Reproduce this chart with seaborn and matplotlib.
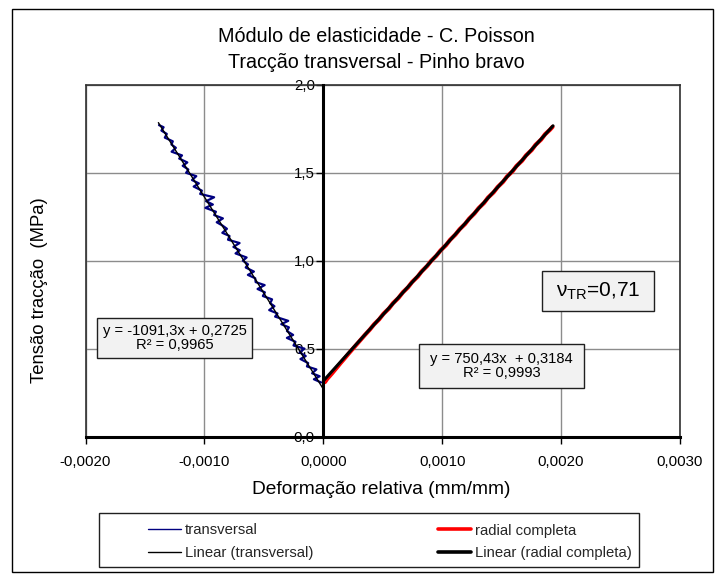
import numpy as np
import pandas as pd
import matplotlib
matplotlib.use("Agg")
import matplotlib.pyplot as plt
import seaborn as sns
from matplotlib.patches import Rectangle
from matplotlib.lines import Line2D

# ---------------- data ----------------
trans_y = [0.310, 0.328, 0.345, 0.362, 0.384, 0.401, 0.420, 0.443, 0.460, 0.481,
           0.502, 0.520, 0.541, 0.563, 0.580, 0.602, 0.623, 0.641, 0.660, 0.684,
           0.702, 0.721, 0.743, 0.760, 0.782, 0.801, 0.822, 0.841, 0.863, 0.880,
           0.902, 0.921, 0.940, 0.963, 0.981, 1.002, 1.020, 1.043, 1.061, 1.080,
           1.102, 1.121, 1.142, 1.160, 1.183, 1.201, 1.220, 1.242, 1.261, 1.280,
           1.302, 1.321, 1.340, 1.362, 1.381, 1.400, 1.423, 1.441, 1.460, 1.482,
           1.501, 1.520, 1.541, 1.560, 1.582, 1.600, 1.621, 1.643, 1.662, 1.680,
           1.701, 1.722, 1.741, 1.760, 1.772]
trans_x = [-18.4e-6, -78.9e-6, -30.4e-6, -94.0e-6, -58.2e-6, -137.7e-6, -127.2e-6, -192.2e-6, -147.8e-6, -199.1e-6,
           -158.3e-6, -250.8e-6, -234.0e-6, -306.2e-6, -253.8e-6, -305.9e-6, -289.2e-6, -353.7e-6, -295.1e-6, -405.1e-6,
           -385.6e-6, -455.0e-6, -411.1e-6, -446.7e-6, -430.9e-6, -508.3e-6, -491.5e-6, -552.9e-6, -493.1e-6, -568.7e-6,
           -572.8e-6, -634.2e-6, -583.7e-6, -652.7e-6, -633.2e-6, -676.5e-6, -645.0e-6, -738.0e-6, -702.5e-6, -755.9e-6,
           -704.1e-6, -801.5e-6, -788.7e-6, -849.2e-6, -810.3e-6, -846.8e-6, -896.2e-6, -844.4e-6, -917.8e-6, -903.2e-6,
           -991.4e-6, -928.8e-6, -986.2e-6, -918.3e-6, -1035.7e-6, -1021.2e-6, -1090.2e-6, -1046.7e-6, -1104.2e-6, -1068.3e-6,
           -1153.7e-6, -1135.1e-6, -1182.4e-6, -1143.8e-6, -1211.9e-6, -1188.4e-6, -1275.7e-6, -1239.8e-6, -1277.3e-6, -1265.7e-6,
           -1333.0e-6, -1316.3e-6, -1361.6e-6, -1343.0e-6, -1382.0e-6]

radial_y = [0.312, 0.318, 0.330, 0.345, 0.362, 0.380, 0.401, 0.420, 0.445, 0.470,
            0.498, 0.525, 0.552, 0.580, 0.610, 0.640, 0.668, 0.700, 0.730, 0.760,
            0.790, 0.822, 0.850, 0.880, 0.912, 0.940, 0.972, 1.000, 1.030, 1.060,
            1.090, 1.120, 1.150, 1.180, 1.210, 1.240, 1.270, 1.300, 1.330, 1.360,
            1.390, 1.420, 1.450, 1.480, 1.510, 1.540, 1.570, 1.600, 1.630, 1.660,
            1.690, 1.720, 1.745, 1.762]
radial_x = [14e-6, 20e-6, 32e-6, 52e-6, 74e-6, 96e-6, 122e-6, 145e-6, 177e-6, 208e-6,
            244e-6, 279e-6, 314e-6, 350e-6, 391e-6, 427e-6, 469e-6, 506e-6, 552e-6, 586e-6,
            632e-6, 669e-6, 712e-6, 746e-6, 795e-6, 826e-6, 874e-6, 906e-6, 951e-6, 986e-6,
            1032e-6, 1066e-6, 1111e-6, 1146e-6, 1192e-6, 1226e-6, 1271e-6, 1306e-6, 1352e-6, 1385e-6,
            1432e-6, 1466e-6, 1512e-6, 1545e-6, 1592e-6, 1625e-6, 1672e-6, 1705e-6, 1752e-6, 1785e-6,
            1832e-6, 1865e-6, 1905e-6, 1928e-6]

# linear trend lines (coefficients from the chart labels) and their x-extents
fit_trans_coef = [-1091.3, 0.2725]
fit_trans_x = [-0.001387, 0.0]
fit_radial_coef = [750.43, 0.3184]
fit_radial_x = [0.0, 0.001932]

x_ticks = [-0.002, -0.001, 0.0, 0.001, 0.002, 0.003]
x_tick_labels = ["-0,0020", "-0,0010", "0,0000", "0,0010", "0,0020", "0,0030"]
y_ticks = [0.0, 0.5, 1.0, 1.5, 2.0]
y_tick_labels = ["0,0", "0,5", "1,0", "1,5", "2,0"]

series_labels = ["transversal", "Linear (transversal)", "radial completa", "Linear (radial completa)"]
eq_trans = "y = -1091,3x + 0,2725\nR² = 0,9965"
eq_radial = "y = 750,43x  + 0,3184\nR² = 0,9993"

# ---------------- style ----------------
sns.set_theme(style="white")
plt.rcParams['font.family'] = ['Liberation Sans', 'DejaVu Sans']
plt.rcParams['mathtext.fontset'] = 'custom'
plt.rcParams['mathtext.rm'] = 'Liberation Sans'
plt.rcParams['mathtext.it'] = 'Liberation Sans:italic'

W, H = 718, 575
fig = plt.figure(figsize=(W / 100, H / 100), dpi=100)
fig.patch.set_facecolor("white")

def fx(px):
    return px / W

def fy(py):
    return 1 - py / H

L, R, T, B = 85.5, 680.0, 85.0, 437.0
ax = fig.add_axes([fx(L), fy(B), fx(R) - fx(L), fy(T) - fy(B)])
ax.set_facecolor("white")
ax.set_axisbelow(True)

# data lines
sns.lineplot(x=trans_x, y=trans_y, sort=False, estimator=None, color="#000080",
             lw=1.6, ax=ax, zorder=3)
sns.lineplot(x=radial_x, y=radial_y, sort=False, estimator=None, color="#FF0000",
             lw=3.0, ax=ax, zorder=3)
fx_t = np.array(fit_trans_x)
sns.lineplot(x=fx_t, y=np.polyval(fit_trans_coef, fx_t), sort=False, estimator=None,
             color="black", lw=1.0, ax=ax, zorder=4)
fx_r = np.array(fit_radial_x)
sns.lineplot(x=fx_r, y=np.polyval(fit_radial_coef, fx_r), sort=False, estimator=None,
             color="black", lw=2.2, ax=ax, zorder=4)

ax.set_xlim(-0.002, 0.003)
ax.set_ylim(0, 2.0)
ax.set_xticks(x_ticks)
ax.set_xticklabels(x_tick_labels)
ax.set_yticks(y_ticks)
ax.set_yticklabels(y_tick_labels)
ax.grid(True, color="#8c8c8c", lw=1.0)

for s in ["top", "right"]:
    ax.spines[s].set_color("#303030")
    ax.spines[s].set_linewidth(1.2)
ax.spines["left"].set_position(("data", 0))
ax.spines["left"].set_color("black")
ax.spines["left"].set_linewidth(2.2)
ax.spines["left"].set_zorder(5)
ax.spines["bottom"].set_color("black")
ax.spines["bottom"].set_linewidth(2.2)
ax.spines["bottom"].set_zorder(5)
ax.axvline(-0.002, color="#303030", lw=1.2, zorder=2, clip_on=False)

ax.tick_params(axis="x", direction="out", length=5, width=1, color="black",
               labelsize=10.8, pad=8, labelcolor="black")
ax.tick_params(axis="y", direction="out", length=5, width=1, color="black",
               labelsize=10.8, pad=1, labelcolor="black")
ax.xaxis.set_ticks_position("bottom")
ax.yaxis.set_ticks_position("left")
ax.set_xlabel("")
ax.set_ylabel("")

# titles & axis labels
fig.text(fx(376), fy(37), "Módulo de elasticidade - C. Poisson", ha="center", va="center",
         fontsize=14.2, color="black")
fig.text(fx(376), fy(62), "Tracção transversal - Pinho bravo", ha="center", va="center",
         fontsize=14.2, color="black")
fig.text(fx(381), fy(489), "Deformação relativa (mm/mm)", ha="center", va="center",
         fontsize=13.8, color="black")
fig.text(fx(40), fy(290), "Tensão tracção  (MPa)", ha="center", va="center",
         rotation=90, fontsize=13.3, color="black")

# annotation boxes
def box(x0, y0, x1, y1, text, size):
    fig.patches.append(Rectangle((fx(x0), fy(y1)), fx(x1) - fx(x0), fy(y0) - fy(y1),
                                 transform=fig.transFigure, facecolor="#F2F2F2",
                                 edgecolor="#202020", lw=1.0, zorder=6))
    fig.text(fx((x0 + x1) / 2), fy((y0 + y1) / 2), text, ha="center", va="center",
             fontsize=size, color="black", zorder=7, linespacing=1.05)

box(97, 318, 252, 358, eq_trans, 10.6)
box(419, 344, 584, 388, eq_radial, 10.6)
box(542, 271, 654, 311, r"ν$_{\mathrm{TR}}$=0,71", 15)

# legend
handles = [Line2D([], [], color="#000080", lw=1.0),
           Line2D([], [], color="black", lw=1.0),
           Line2D([], [], color="#FF0000", lw=2.6),
           Line2D([], [], color="black", lw=2.6)]
fs = 10.7
fpx = fs * 100 / 72
leg = fig.legend(handles, series_labels, ncol=2, frameon=False, fontsize=fs,
                 loc="upper left", bbox_to_anchor=(fx(148), fy(523.5)),
                 bbox_transform=fig.transFigure, borderpad=0, borderaxespad=0,
                 handlelength=33 / fpx, handletextpad=4 / fpx,
                 columnspacing=125 / fpx, labelspacing=0.6)
fig.patches.append(Rectangle((fx(99), fy(567)), fx(639) - fx(99), fy(513) - fy(567),
                             transform=fig.transFigure, facecolor="none",
                             edgecolor="#202020", lw=1.0, zorder=6))

# outer chart border
fig.patches.append(Rectangle((fx(11.5), fy(572)), fx(712.5) - fx(11.5), fy(8.5) - fy(572),
                             transform=fig.transFigure, facecolor="none",
                             edgecolor="black", lw=1.0, zorder=6))

fig.savefig("out.png", dpi=100, facecolor="white")
